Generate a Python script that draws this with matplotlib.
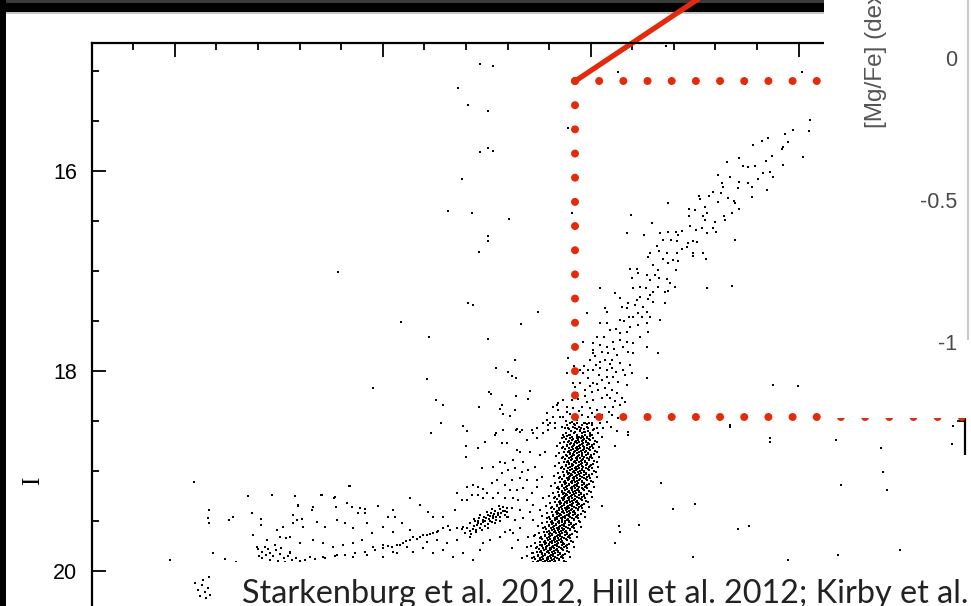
import matplotlib
matplotlib.use("Agg")
import numpy as np
import matplotlib.pyplot as plt
from matplotlib.patches import Rectangle
from matplotlib.ticker import MultipleLocator, FixedLocator

# (V-I, I) of individual stars, grouped by region of the diagram
field_stars = [
    (0.734, 14.93), (0.766, 14.95), (0.681, 15.17), (0.705, 15.34), (0.753, 15.40),
    (0.734, 15.81), (0.753, 15.77), (0.766, 15.80), (0.691, 16.08), (0.657, 16.40),
    (0.715, 16.42), (0.804, 16.48), (0.753, 16.65), (0.753, 16.70), (0.732, 16.81),
    (0.705, 17.32), (0.717, 17.34), (0.873, 17.41), (0.833, 17.53), (0.753, 17.68),
    (0.611, 17.66), (0.607, 18.08), (0.773, 17.97), (0.819, 17.89), (0.802, 18.01),
    (0.811, 18.05), (0.821, 18.07), (0.756, 18.21), (0.761, 18.23), (0.854, 18.20),
    (0.849, 18.28), (0.821, 18.25), (0.628, 18.29), (0.645, 18.34), (0.732, 18.36),
    (0.946, 15.57), (0.955, 16.42), (1.066, 15.01), (1.182, 14.75), (1.508, 15.01),
    (1.371, 15.13), (1.439, 18.14), (1.499, 18.15), (1.335, 18.54), (1.431, 18.67),
    (1.340, 17.15), (1.280, 17.17), (1.163, 17.82), (1.136, 18.07), (0.393, 17.01),
    (0.545, 17.51), (0.477, 18.17),
    (1.089, 18.64), (1.058, 18.75), (1.336, 18.56), (1.432, 18.71), (1.591, 18.69),
    (1.697, 18.77), (1.868, 18.73), (1.872, 18.55), (1.169, 19.12), (1.601, 19.14),
    (1.703, 19.01), (1.713, 19.19), (1.028, 19.35), (1.198, 19.38), (1.251, 19.33),
    (1.067, 19.55), (1.117, 19.54), (1.070, 19.61), (1.058, 19.72), (1.353, 19.58),
    (1.380, 19.55), (1.246, 19.86), (1.474, 19.89), (1.595, 19.84), (1.744, 19.79),
]

upper_rgb = [
    (1.528, 15.49), (1.525, 15.60), (1.487, 15.59), (1.467, 15.63), (1.475, 15.71),
    (1.463, 15.76), (1.427, 15.67), (1.412, 15.70), (1.391, 15.74), (1.460, 15.78),
    (1.436, 15.85), (1.422, 15.90), (1.463, 15.94), (1.510, 15.86), (1.357, 15.87),
    (1.328, 15.91), (1.366, 15.95), (1.378, 15.96), (1.395, 15.95), (1.415, 16.02),
    (1.431, 16.01), (1.439, 16.06), (1.403, 16.08), (1.424, 16.19), (1.306, 16.04),
    (1.316, 16.12), (1.335, 16.06), (1.357, 16.11), (1.378, 16.12), (1.388, 16.16),
    (1.355, 16.17), (1.388, 16.26), (1.294, 16.21), (1.285, 16.25), (1.261, 16.25),
    (1.263, 16.28), (1.306, 16.31), (1.330, 16.27), (1.345, 16.30), (1.347, 16.32),
    (1.318, 16.16), (1.314, 16.22), (1.237, 16.38), (1.251, 16.39), (1.275, 16.36),
    (1.280, 16.42), (1.237, 16.45), (1.270, 16.45), (1.275, 16.49), (1.299, 16.51),
    (1.321, 16.45), (1.340, 16.42), (1.323, 16.49), (1.357, 16.38), (1.186, 16.32),
    (1.167, 16.62), (1.186, 16.61), (1.206, 16.61), (1.220, 16.60), (1.210, 16.64),
    (1.239, 16.55), (1.253, 16.59), (1.268, 16.57), (1.294, 16.57), (1.302, 16.61),
    (1.280, 16.62), (1.148, 16.52), (1.129, 16.64), (1.088, 16.62), (1.097, 16.44),
    (1.174, 16.69), (1.193, 16.69), (1.208, 16.70), (1.234, 16.72), (1.246, 16.70),
    (1.256, 16.71), (1.160, 16.75), (1.184, 16.82), (1.208, 16.82), (1.220, 16.78),
    (1.232, 16.76), (1.246, 16.82), (1.246, 16.85), (1.143, 16.82), (1.165, 16.80),
    (1.174, 16.88), (1.198, 16.89), (1.138, 16.86), (1.150, 16.94), (1.162, 16.99),
    (1.186, 16.92), (1.206, 16.99), (1.210, 16.90), (1.270, 16.82), (1.278, 16.88),
    (1.347, 16.69), (1.112, 16.98), (1.095, 16.98), (1.114, 17.02), (1.100, 17.07),
    (1.136, 17.04), (1.155, 17.04), (1.165, 17.07), (1.143, 17.09), (1.184, 17.08),
    (1.191, 17.12), (1.186, 17.20), (1.162, 17.16), (1.150, 17.21), (1.133, 17.17),
    (1.119, 17.16), (1.102, 17.17), (1.143, 17.24), (1.138, 17.28), (1.150, 17.31),
    (1.179, 17.32), (1.203, 17.16), (1.179, 17.21), (1.119, 17.26), (1.112, 17.29),
    (1.107, 17.34), (1.126, 17.36), (1.136, 17.41), (1.143, 17.46), (1.090, 17.32),
    (1.071, 17.27), (1.076, 17.36), (1.088, 17.37), (1.092, 17.46), (1.102, 17.46),
    (1.071, 17.49), (1.059, 17.22), (1.035, 17.37), (1.040, 17.41), (1.023, 17.17),
    (1.114, 17.42), (1.124, 17.46), (1.136, 17.52), (1.138, 17.61), (1.167, 17.49),
    (1.136, 17.76),
]

mid_rgb = [
    (1.095, 17.56), (1.088, 17.61), (1.071, 17.62), (1.054, 17.71), (1.071, 17.69),
    (1.088, 17.71), (1.102, 17.72), (1.078, 17.76), (1.090, 17.81), (1.102, 17.82),
    (1.047, 17.59), (1.040, 17.52), (1.023, 17.52), (1.031, 17.66), (1.016, 17.66),
    (1.006, 17.72), (1.023, 17.74), (1.040, 17.76), (1.042, 17.82), (1.064, 17.84),
    (1.052, 17.89), (1.035, 17.89), (1.023, 17.91), (1.006, 17.82), (0.999, 17.89),
    (0.982, 17.71), (0.991, 17.42), (1.006, 17.79), (0.994, 17.99), (1.006, 17.99),
    (1.023, 17.97), (1.040, 17.99), (1.052, 17.97), (1.071, 17.92), (1.078, 17.99),
    (1.095, 17.94), (1.100, 18.02), (1.054, 18.06), (1.040, 18.06), (1.028, 18.09),
    (1.006, 18.12), (0.994, 18.07), (0.982, 18.02), (0.975, 17.99), (0.975, 18.12),
    (0.987, 18.19), (1.004, 18.21), (1.018, 18.19), (1.035, 18.17), (1.052, 18.19),
    (1.064, 18.22), (1.076, 18.27), (1.047, 18.27), (1.028, 18.27), (1.006, 18.29),
    (0.991, 18.31), (0.967, 18.22), (0.963, 18.16), (0.955, 18.29), (0.943, 18.02),
    (0.946, 17.87), (0.943, 18.36), (0.958, 18.37), (0.979, 18.36), (0.999, 18.37),
    (1.016, 18.39), (1.035, 18.36), (1.054, 18.36), (1.071, 18.34), (1.028, 18.44),
    (1.011, 18.46), (0.994, 18.46), (0.979, 18.44), (0.967, 18.49), (0.955, 18.51),
    (0.934, 18.46), (0.919, 18.34), (0.922, 18.39), (0.910, 18.46), (0.902, 18.52),
    (0.895, 18.49), (0.987, 18.52), (1.004, 18.52), (1.023, 18.52), (1.040, 18.51),
    (1.052, 18.44), (0.994, 18.57), (1.006, 18.59), (0.987, 18.61), (0.975, 18.59),
    (0.963, 18.57), (0.946, 18.57), (0.931, 18.56), (0.915, 18.57), (0.898, 18.59),
    (0.886, 18.62), (0.999, 18.64), (0.982, 18.66), (0.967, 18.66), (0.951, 18.64),
    (0.934, 18.64), (1.018, 18.62), (1.028, 18.66), (1.090, 18.61),
    (0.895, 18.42), (0.886, 18.52), (0.910, 18.36), (0.922, 18.32), (0.934, 18.29),
    (0.898, 18.54), (0.915, 18.52), (0.927, 18.46), (0.943, 18.41),
    (0.985, 17.95), (1.012, 17.94), (1.046, 17.93), (1.060, 18.01), (1.083, 18.04),
    (1.020, 18.04), (0.998, 18.15), (1.015, 18.13), (1.043, 18.12), (1.066, 18.11),
    (1.088, 18.14), (0.970, 18.28), (0.987, 18.25), (1.040, 18.24), (1.058, 18.30),
    (1.083, 18.31), (0.950, 18.43), (0.972, 18.40), (1.003, 18.42), (1.044, 18.41),
    (1.066, 18.47), (0.940, 18.50), (1.030, 18.57), (1.048, 18.56), (1.064, 18.60),
    (1.010, 17.85), (1.028, 17.81), (1.056, 17.78), (1.118, 17.66), (1.062, 17.58),
    (1.080, 17.50), (1.113, 17.54), (0.958, 18.12), (0.960, 17.95),
]

# lower giant branch, one row of stars per magnitude step
rgb_core_rows = [
    (18.52, [0.951, 0.968, 0.983, 0.996]),
    (18.53, [0.960, 0.990]),
    (18.54, [0.942, 0.962, 0.979, 1.002]),
    (18.56, [0.957, 0.971, 0.990]),
    (18.57, [0.938, 0.976, 1.015]),
    (18.58, [0.947, 0.966, 0.985, 1.008]),
    (18.60, [0.952, 0.974, 0.993]),
    (18.61, [0.962, 0.983]),
    (18.62, [0.940, 0.960, 0.978, 0.999]),
    (18.64, [0.948, 0.966, 0.986, 1.004]),
    (18.65, [0.944, 0.979, 0.998]),
    (18.66, [0.935, 0.955, 0.972, 0.992]),
    (18.67, [0.932, 0.950, 0.966, 0.976, 0.992, 1.006]),
    (18.68, [0.940, 0.958, 0.970, 0.984, 0.997]),
    (18.69, [0.954, 0.969, 0.982, 0.999]),
    (18.70, [0.948, 0.964, 0.978, 0.989, 1.011]),
    (18.71, [0.937, 0.946, 0.962, 0.973, 0.988, 1.016]),
    (18.72, [0.926, 0.952, 0.967, 0.981, 0.994]),
    (18.73, [0.951, 0.959, 0.979, 0.995, 1.008]),
    (18.74, [0.943, 0.961, 0.975, 0.991, 1.003]),
    (18.75, [0.918, 0.944, 0.957, 0.972, 0.981, 1.002]),
    (18.76, [0.934, 0.954, 0.968, 0.985, 0.999, 1.021]),
    (18.77, [0.931, 0.949, 0.965, 0.975, 0.991, 1.005]),
    (18.78, [0.939, 0.957, 0.969, 0.983, 0.996]),
    (18.79, [0.953, 0.968, 0.981, 0.998]),
    (18.80, [0.947, 0.963, 0.977, 0.988, 1.010]),
    (18.81, [0.936, 0.945, 0.961, 0.972, 0.987, 1.015]),
    (18.82, [0.925, 0.951, 0.966, 0.980, 0.993]),
    (18.83, [0.950, 0.958, 0.978, 0.994, 1.007]),
    (18.84, [0.941, 0.959, 0.973, 0.989, 1.001]),
    (18.85, [0.916, 0.942, 0.955, 0.970, 0.979, 1.000]),
    (18.86, [0.933, 0.953, 0.967, 0.984, 0.998, 1.020]),
    (18.87, [0.930, 0.948, 0.964, 0.974, 0.990, 1.004]),
    (18.88, [0.938, 0.956, 0.968, 0.982, 0.995]),
    (18.89, [0.952, 0.967, 0.980, 0.997]),
    (18.90, [0.946, 0.962, 0.976, 0.987, 1.009]),
    (18.91, [0.935, 0.944, 0.960, 0.971, 0.986, 1.014]),
    (18.92, [0.923, 0.949, 0.964, 0.978, 0.991]),
    (18.93, [0.948, 0.956, 0.976, 0.992, 1.005]),
    (18.94, [0.940, 0.958, 0.972, 0.988, 1.000]),
    (18.95, [0.915, 0.941, 0.954, 0.969, 0.978, 0.999]),
    (18.96, [0.931, 0.951, 0.965, 0.982, 0.996, 1.018]),
    (18.97, [0.928, 0.946, 0.962, 0.972, 0.988, 1.002]),
    (18.98, [0.936, 0.954, 0.966, 0.980, 0.993]),
    (18.99, [0.950, 0.965, 0.978, 0.995]),
    (19.00, [0.944, 0.960, 0.974, 0.985, 1.007]),
    (19.01, [0.933, 0.942, 0.958, 0.969, 0.984, 1.012]),
    (19.02, [0.921, 0.947, 0.962, 0.976, 0.989]),
    (19.03, [0.945, 0.953, 0.973, 0.989, 1.002]),
    (19.04, [0.936, 0.954, 0.968, 0.984, 0.996]),
    (19.05, [0.911, 0.937, 0.950, 0.965, 0.974, 0.995]),
    (19.06, [0.927, 0.947, 0.961, 0.978, 0.992, 1.014]),
    (19.07, [0.924, 0.942, 0.958, 0.968, 0.984, 0.998]),
    (19.08, [0.931, 0.949, 0.961, 0.975, 0.988]),
    (19.09, [0.945, 0.960, 0.973, 0.990]),
    (19.10, [0.938, 0.954, 0.968, 0.979, 1.001]),
    (19.11, [0.927, 0.936, 0.952, 0.963, 0.978, 1.006]),
    (19.12, [0.915, 0.941, 0.956, 0.970, 0.983]),
    (19.13, [0.939, 0.947, 0.967, 0.983, 0.996]),
    (19.14, [0.930, 0.948, 0.962, 0.978, 0.990]),
    (19.15, [0.905, 0.931, 0.944, 0.959, 0.968, 0.989]),
    (19.16, [0.921, 0.941, 0.955, 0.972, 0.986, 1.008]),
    (19.17, [0.918, 0.936, 0.952, 0.962, 0.978, 0.992]),
    (19.18, [0.925, 0.943, 0.955, 0.969, 0.982]),
    (19.19, [0.939, 0.954, 0.967, 0.984]),
    (19.20, [0.932, 0.948, 0.962, 0.973, 0.995]),
    (19.21, [0.921, 0.930, 0.946, 0.957, 0.972, 1.000]),
    (19.22, [0.909, 0.935, 0.950, 0.964, 0.977]),
    (19.23, [0.933, 0.941, 0.961, 0.977, 0.990]),
    (19.24, [0.924, 0.942, 0.956, 0.972, 0.984]),
    (19.25, [0.899, 0.925, 0.938, 0.953, 0.962, 0.983]),
    (19.26, [0.915, 0.935, 0.949, 0.966, 0.980, 1.002]),
    (19.27, [0.912, 0.930, 0.946, 0.956, 0.972, 0.986]),
    (19.28, [0.919, 0.937, 0.949, 0.963, 0.976]),
    (19.29, [0.933, 0.948, 0.961, 0.978]),
    (19.30, [0.926, 0.942, 0.956, 0.967, 0.989]),
    (19.31, [0.914, 0.923, 0.939, 0.950, 0.965, 0.993]),
    (19.32, [0.902, 0.928, 0.943, 0.957, 0.970]),
    (19.33, [0.927, 0.935, 0.955, 0.971, 0.984]),
    (19.34, [0.918, 0.936, 0.950, 0.966, 0.978]),
    (19.35, [0.892, 0.918, 0.931, 0.946, 0.955, 0.976]),
    (19.36, [0.908, 0.928, 0.942, 0.959, 0.973, 0.995]),
    (19.37, [0.905, 0.923, 0.939, 0.949, 0.965, 0.979]),
    (19.38, [0.912, 0.930, 0.942, 0.956, 0.969]),
    (19.39, [0.925, 0.940, 0.953, 0.970]),
    (19.40, [0.918, 0.934, 0.948, 0.959, 0.981]),
    (19.41, [0.907, 0.916, 0.932, 0.943, 0.958, 0.986]),
    (19.42, [0.895, 0.921, 0.936, 0.950, 0.963]),
    (19.43, [0.919, 0.927, 0.947, 0.963, 0.976]),
    (19.44, [0.910, 0.928, 0.942, 0.958, 0.970]),
    (19.45, [0.884, 0.910, 0.923, 0.938, 0.947, 0.968]),
    (19.46, [0.899, 0.919, 0.933, 0.950, 0.964, 0.986]),
    (19.47, [0.895, 0.913, 0.929, 0.939, 0.955, 0.969]),
    (19.48, [0.902, 0.920, 0.932, 0.946, 0.959]),
    (19.49, [0.915, 0.930, 0.943, 0.960]),
    (19.50, [0.908, 0.924, 0.938, 0.949, 0.971]),
    (19.51, [0.896, 0.905, 0.921, 0.932, 0.947, 0.975]),
    (19.52, [0.884, 0.910, 0.925, 0.939, 0.952]),
    (19.53, [0.908, 0.916, 0.936, 0.952, 0.965]),
    (19.54, [0.899, 0.917, 0.931, 0.947, 0.959]),
    (19.55, [0.873, 0.899, 0.912, 0.927, 0.936, 0.957]),
    (19.56, [0.889, 0.909, 0.923, 0.940, 0.954, 0.976]),
    (19.57, [0.886, 0.904, 0.920, 0.930, 0.946, 0.960]),
    (19.58, [0.893, 0.911, 0.923, 0.937, 0.950]),
    (19.59, [0.906, 0.921, 0.934, 0.951]),
    (19.60, [0.899, 0.915, 0.929, 0.940, 0.962]),
    (19.61, [0.887, 0.896, 0.912, 0.923, 0.938, 0.966]),
    (19.62, [0.875, 0.901, 0.916, 0.930, 0.943]),
    (19.63, [0.899, 0.907, 0.927, 0.943, 0.956]),
    (19.64, [0.890, 0.908, 0.922, 0.938, 0.950]),
    (19.65, [0.864, 0.890, 0.903, 0.918, 0.927, 0.948]),
    (19.66, [0.880, 0.900, 0.914, 0.931, 0.945, 0.967]),
    (19.67, [0.877, 0.895, 0.911, 0.921, 0.937, 0.951]),
    (19.68, [0.884, 0.902, 0.914, 0.928, 0.941]),
    (19.69, [0.897, 0.912, 0.925, 0.942]),
    (19.70, [0.890, 0.906, 0.920, 0.931, 0.953]),
    (19.71, [0.878, 0.887, 0.903, 0.914, 0.929, 0.957]),
    (19.72, [0.866, 0.892, 0.907, 0.921, 0.934]),
    (19.73, [0.891, 0.899, 0.919, 0.935, 0.948]),
    (19.74, [0.882, 0.900, 0.914, 0.930, 0.942]),
    (19.75, [0.856, 0.882, 0.895, 0.910, 0.919, 0.940]),
    (19.76, [0.872, 0.892, 0.906, 0.923, 0.937, 0.959]),
    (19.77, [0.868, 0.886, 0.902, 0.912, 0.928, 0.942]),
    (19.78, [0.875, 0.893, 0.905, 0.919, 0.932]),
    (19.79, [0.888, 0.903, 0.916, 0.933]),
    (19.80, [0.881, 0.897, 0.911, 0.922, 0.944]),
    (19.81, [0.870, 0.879, 0.895, 0.906, 0.921, 0.949]),
    (19.82, [0.858, 0.884, 0.899, 0.913, 0.926]),
    (19.83, [0.882, 0.890, 0.910, 0.926, 0.939]),
    (19.84, [0.873, 0.891, 0.905, 0.921, 0.933]),
    (19.85, [0.847, 0.873, 0.886, 0.901, 0.910, 0.931]),
    (19.86, [0.863, 0.883, 0.897, 0.914, 0.928, 0.950]),
    (19.87, [0.860, 0.878, 0.894, 0.904, 0.920, 0.934]),
    (19.88, [0.867, 0.885, 0.897, 0.911, 0.924]),
    (19.89, [0.880, 0.895, 0.908, 0.925]),
    (19.90, [0.873, 0.889, 0.903, 0.914, 0.936]),
    (19.91, [0.861, 0.870, 0.886, 0.897, 0.912, 0.940]),
]

# bluer, sparser giants and subgiants left of the main branch
blue_rgb = [
    (0.641, 18.52), (0.694, 18.55), (0.703, 18.60), (0.617, 18.62), (0.773, 18.62),
    (0.790, 18.59), (0.823, 18.58), (0.830, 18.61), (0.859, 18.59), (0.871, 18.57),
    (0.782, 18.38), (0.790, 18.43), (0.819, 18.39), (0.806, 18.45), (0.786, 18.34),
    (0.746, 18.71), (0.770, 18.64), (0.787, 18.72), (0.799, 18.72), (0.821, 18.59),
    (0.835, 18.59), (0.862, 18.62), (0.871, 18.67), (0.847, 18.69), (0.823, 18.79),
    (0.830, 18.81), (0.854, 18.81), (0.878, 18.84), (0.890, 18.81), (0.814, 18.89),
    (0.838, 18.91), (0.782, 18.91), (0.794, 18.92), (0.765, 18.96), (0.739, 18.97),
    (0.701, 18.86), (0.701, 18.75), (0.729, 18.77), (0.703, 19.16), (0.717, 19.14),
    (0.729, 19.16), (0.741, 19.18), (0.751, 19.22), (0.763, 19.12), (0.775, 19.09),
    (0.787, 19.02), (0.802, 18.99), (0.819, 18.97), (0.835, 19.01), (0.850, 18.99),
    (0.866, 18.96), (0.883, 19.06), (0.871, 19.09), (0.847, 19.09), (0.830, 19.07),
    (0.811, 19.09), (0.794, 19.14), (0.806, 19.19), (0.823, 19.19), (0.838, 19.17),
    (0.859, 19.22), (0.871, 19.16), (0.777, 19.22), (0.765, 19.27), (0.741, 19.27),
    (0.729, 19.24), (0.715, 19.24), (0.703, 19.29), (0.691, 19.29), (0.794, 19.27),
    (0.814, 19.27), (0.826, 19.29), (0.847, 19.29), (0.862, 19.34), (0.886, 19.27),
    (0.878, 19.39), (0.854, 19.41), (0.830, 19.39), (0.811, 19.37), (0.799, 19.41),
    (0.802, 19.46), (0.819, 19.49), (0.838, 19.47), (0.862, 19.49), (0.806, 19.59),
    (0.826, 19.69), (0.866, 19.64), (0.878, 19.74), (0.811, 19.77), (0.835, 19.87),
    (0.878, 19.89),
]

red_clump = [
    (0.703, 19.57), (0.709, 19.60), (0.711, 19.52), (0.716, 19.58), (0.719, 19.55),
    (0.721, 19.50), (0.724, 19.59), (0.726, 19.54), (0.730, 19.52), (0.731, 19.47),
    (0.735, 19.57), (0.736, 19.53), (0.740, 19.49), (0.743, 19.46), (0.745, 19.55),
    (0.747, 19.50), (0.748, 19.47), (0.752, 19.44), (0.754, 19.53), (0.755, 19.48),
    (0.759, 19.45), (0.760, 19.42), (0.762, 19.51), (0.766, 19.47), (0.767, 19.43),
    (0.771, 19.40), (0.772, 19.49), (0.776, 19.44), (0.778, 19.42), (0.781, 19.38),
    (0.783, 19.46), (0.784, 19.42), (0.788, 19.40), (0.790, 19.36), (0.793, 19.44),
    (0.795, 19.40), (0.712, 19.63), (0.725, 19.61), (0.738, 19.59), (0.752, 19.57),
    (0.769, 19.52), (0.781, 19.50), (0.798, 19.46), (0.719, 19.48), (0.733, 19.44),
    (0.750, 19.41), (0.762, 19.38), (0.779, 19.35), (0.799, 19.37), (0.697, 19.62),
    (0.690, 19.58), (0.742, 19.51), (0.757, 19.50), (0.773, 19.46), (0.728, 19.50),
    (0.764, 19.45),
]

horizontal_branch = [
    (0.047, 19.11), (-0.011, 19.89), (0.083, 19.39), (0.080, 19.47), (0.083, 19.52),
    (0.092, 19.82), (0.121, 19.88), (0.140, 19.46), (0.131, 19.49), (0.148, 19.91),
    (0.176, 19.25), (0.186, 19.42), (0.208, 19.48), (0.208, 19.54), (0.189, 19.64),
    (0.198, 19.76), (0.234, 19.24), (0.222, 19.69), (0.246, 19.59), (0.261, 19.56),
    (0.268, 19.67), (0.297, 19.34), (0.285, 19.44), (0.285, 19.52), (0.306, 19.48),
    (0.330, 19.39), (0.352, 19.24), (0.384, 19.27), (0.420, 19.15), (0.388, 19.36),
    (0.415, 19.32), (0.427, 19.36), (0.441, 19.42), (0.458, 19.38), (0.489, 19.35),
    (0.513, 19.46), (0.530, 19.46),
    (0.201, 19.78), (0.210, 19.81), (0.220, 19.84), (0.229, 19.82), (0.237, 19.85),
    (0.244, 19.79), (0.253, 19.83), (0.263, 19.87), (0.273, 19.85), (0.282, 19.89),
    (0.210, 19.87), (0.229, 19.89), (0.249, 19.90), (0.266, 19.91), (0.217, 19.76),
    (0.241, 19.74), (0.256, 19.77), (0.203, 19.85), (0.224, 19.78), (0.278, 19.81),
    (0.292, 19.87), (0.301, 19.90),
    (0.290, 19.25), (0.297, 19.35), (0.333, 19.36), (0.355, 19.24), (0.386, 19.26),
    (0.422, 19.15), (0.446, 19.37), (0.458, 19.42), (0.525, 19.39), (0.566, 19.27),
    (0.590, 19.34), (0.609, 19.41), (0.621, 19.46), (0.645, 19.46), (0.674, 19.39),
    (0.679, 19.22), (0.295, 19.49), (0.309, 19.56), (0.342, 19.51), (0.362, 19.56),
    (0.390, 19.49), (0.410, 19.52), (0.429, 19.57), (0.463, 19.52), (0.475, 19.62),
    (0.501, 19.56), (0.525, 19.61), (0.547, 19.52), (0.566, 19.59), (0.253, 19.66),
    (0.277, 19.66), (0.301, 19.72), (0.333, 19.69), (0.357, 19.72), (0.381, 19.76),
    (0.405, 19.74), (0.429, 19.72), (0.451, 19.69), (0.477, 19.76), (0.501, 19.74),
    (0.525, 19.81), (0.559, 19.76), (0.573, 19.81), (0.597, 19.77), (0.621, 19.82),
    (0.645, 19.79), (0.669, 19.86), (0.694, 19.82), (0.718, 19.89), (0.734, 19.79),
    (0.742, 19.72), (0.758, 19.69), (0.782, 19.66), (0.794, 19.61), (0.814, 19.62),
    (0.830, 19.57), (0.850, 19.66), (0.847, 19.76), (0.862, 19.82), (0.710, 19.66),
    (0.679, 19.69), (0.655, 19.72), (0.631, 19.69), (0.607, 19.71), (0.535, 19.82),
    (0.501, 19.86), (0.463, 19.84), (0.429, 19.86), (0.390, 19.84), (0.357, 19.86),
    (0.326, 19.86), (0.277, 19.82),
    (0.694, 19.56), (0.679, 19.57), (0.662, 19.59), (0.645, 19.57), (0.631, 19.61),
    (0.621, 19.62), (0.607, 19.64), (0.590, 19.66), (0.573, 19.66), (0.566, 19.69),
    (0.549, 19.72), (0.535, 19.74), (0.523, 19.76), (0.501, 19.77), (0.482, 19.79),
    (0.458, 19.81), (0.434, 19.82), (0.410, 19.84), (0.386, 19.85), (0.362, 19.87),
    (0.338, 19.88), (0.313, 19.89), (0.657, 19.55), (0.633, 19.60), (0.614, 19.63),
    (0.597, 19.64), (0.583, 19.68), (0.556, 19.70), (0.542, 19.74), (0.513, 19.75),
    (0.049, 20.12), (0.056, 20.19), (0.066, 20.14), (0.073, 20.21), (0.080, 20.17),
    (0.061, 20.25), (0.075, 20.27), (0.085, 20.24), (0.068, 20.09), (0.083, 20.06),
]

# box around the bright giants picked for spectroscopy
box_vi_left = 0.963
box_vi_right = 2.02
box_i_top = 15.10
box_i_bottom = 18.46
pointer_end = (1.28, 14.22)

# [Mg/Fe] axis of the abundance panel
mgfe_ticks = [0.0, -0.5, -1.0]
mgfe_labels = ["0", "-0.5", "-1"]
mgfe_range = (-1.268, 0.204)

citation = "Starkenburg et al. 2012, Hill et al. 2012; Kirby et al."

RED = "#e42a0c"
W, H = 971, 606


def fig_box(x0, y0, x1, y1):
    """Pixel box (top-left origin) to figure fraction rect."""
    return (x0 / W, 1 - y1 / H, (x1 - x0) / W, (y1 - y0) / H)


def as_xy(stars):
    arr = np.array(stars)
    return arr[:, 0], arr[:, 1]


def add_rect(fig, box, color, zorder):
    left, bottom, width, height = box
    fig.patches.append(Rectangle((left, bottom), width, height, transform=fig.transFigure,
                                 facecolor=color, edgecolor="none", zorder=zorder))


def draw_frame(fig):
    """Dark bezel along the top and left edge."""
    add_rect(fig, fig_box(0, 0, 824, 12.5), "black", -1)
    add_rect(fig, fig_box(0, 0, 824, 3), "#3a3a3a", -1)
    add_rect(fig, fig_box(0, 12.5, 824, 14), "#c4c4c4", -1)
    add_rect(fig, fig_box(0, 0, 5.5, 606), "black", -1)


def draw_cmd(fig):
    ax = fig.add_axes(fig_box(91.6, 43, 965, 606))
    ax.set_facecolor("none")
    ax.set_xlim(-0.2, 1.9)
    ax.set_ylim(20.35, 14.72)

    for stars in (field_stars, upper_rgb, mid_rgb, blue_rgb, red_clump, horizontal_branch):
        vi, mag = as_xy(stars)
        ax.scatter(vi, mag, s=3.2, marker="s", c="black", linewidths=0)

    core_vi = [c for _, row in rgb_core_rows for c in row]
    core_i = [m for m, row in rgb_core_rows for _ in row]
    ax.scatter(core_vi, core_i, s=3.6, marker="s", c="black", linewidths=0)

    for side in ("bottom", "right"):
        ax.spines[side].set_visible(False)
    for side in ("top", "left"):
        ax.spines[side].set_linewidth(1.6)

    ax.xaxis.set_ticks_position("top")
    ax.xaxis.set_major_locator(MultipleLocator(0.5))
    ax.xaxis.set_minor_locator(MultipleLocator(0.1))
    ax.tick_params(axis="x", which="both", direction="in", labeltop=False, labelbottom=False)
    ax.yaxis.set_ticks_position("left")
    ax.yaxis.set_major_locator(FixedLocator([16, 18, 20]))
    ax.yaxis.set_minor_locator(MultipleLocator(0.5))
    ax.tick_params(axis="y", which="both", direction="in", pad=10.5, labelsize=15.5)
    ax.tick_params(which="major", length=10, width=1.3)
    ax.tick_params(which="minor", length=5, width=1.3)
    for lab in ax.get_yticklabels():
        lab.set_family("Liberation Sans")

    # short piece of the right-hand frame with its 18.5 tick
    ax.plot([1.9, 1.9], [18.47, 18.84], color="black", lw=1.6, clip_on=False,
            solid_capstyle="butt")
    ax.plot([1.882, 1.9], [18.5, 18.5], color="black", lw=1.3, clip_on=False)

    # selection box and pointer line
    dots = dict(color=RED, lw=5.8, linestyle=(0, (0.001, 3.0)), dash_capstyle="round",
                clip_on=False)
    ax.plot([box_vi_left, box_vi_right], [box_i_top, box_i_top], **dots)
    ax.plot([box_vi_left, box_vi_left], [box_i_top, box_i_bottom], **dots)
    ax.plot([box_vi_left, box_vi_right], [box_i_bottom, box_i_bottom], **dots)
    ax.plot([box_vi_left, pointer_end[0]], [box_i_top, pointer_end[1]], color=RED,
            lw=3.8, solid_capstyle="round", clip_on=False)
    return ax


def draw_inset(fig):
    """Corner of the [Mg/Fe] panel lying over the diagram."""
    add_rect(fig, fig_box(824, 0, 971, 418), "white", 5)
    left, bottom, _, height = fig_box(968, 0, 971, 418)
    ax = fig.add_axes([left, bottom, 0.1, height], zorder=6)
    ax.set_facecolor("none")
    ax.set_ylim(*mgfe_range)
    ax.set_xticks([])
    for side in ("top", "right", "bottom"):
        ax.spines[side].set_visible(False)
    ax.spines["left"].set_color("#c9c9c9")
    ax.spines["left"].set_linewidth(1.5)
    ax.spines["left"].set_bounds(-0.99, mgfe_range[1])
    ax.set_yticks(mgfe_ticks)
    ax.set_yticklabels(mgfe_labels, family="Liberation Sans")
    ax.tick_params(axis="y", length=0, pad=8, labelsize=15.5, labelcolor="#4a4a4a")
    fig.text(876 / W, 1 - 128 / H, "[Mg/Fe] (dex)", rotation=90, ha="center", va="bottom",
             fontsize=17.5, color="#555555", family="Liberation Sans", zorder=7)


def draw_citation(fig):
    add_rect(fig, fig_box(225, 562, 971, 606), "white", 5)
    txt = fig.text(242 / W, 3 / H, citation, fontsize=22, family="Lato",
                   color="#222222", va="baseline", ha="left", zorder=6)
    fig.canvas.draw()
    width = txt.get_window_extent().width
    txt.set_fontsize(22 * 724 / width)


def main():
    fig = plt.figure(figsize=(W / 100, H / 100), dpi=100)
    fig.patch.set_facecolor("white")
    draw_frame(fig)
    draw_cmd(fig)
    fig.text(33 / W, 1 - 481 / H, "I", rotation=90, ha="center", va="center",
             fontsize=18, family="Liberation Serif")
    draw_inset(fig)
    draw_citation(fig)
    fig.savefig("out.png", dpi=100)


if __name__ == "__main__":
    main()
